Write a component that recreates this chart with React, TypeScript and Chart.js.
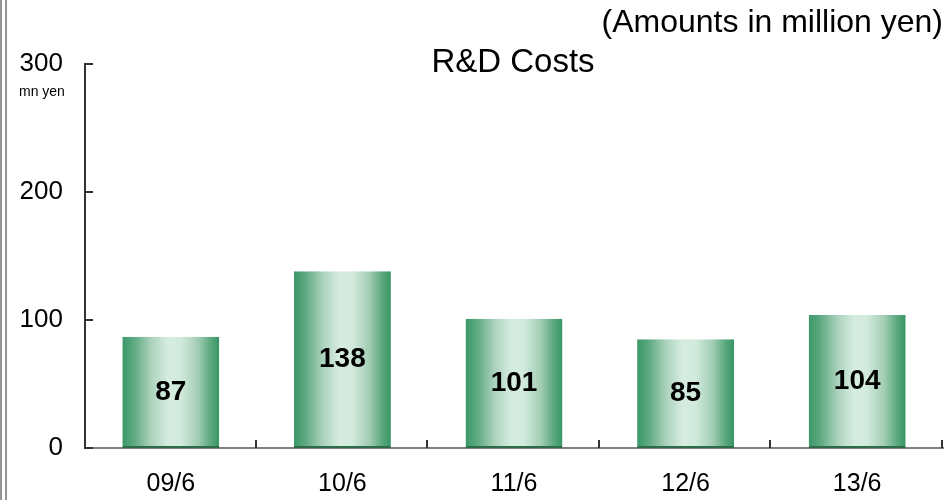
import React, { useEffect, useRef } from "react";
import { Chart, registerables } from "chart.js";

Chart.register(...registerables);

const categories = ["09/6", "10/6", "11/6", "12/6", "13/6"];
const rdCosts = [87, 138, 101, 85, 104];
const yTicks = [0, 100, 200, 300];
const chartTitle = "R&D Costs";
const unitNote = "(Amounts in million yen)";
const axisUnit = "mn yen";

const FONT = "'Liberation Sans', Arial, Helvetica, sans-serif";
const BAR_PCT = 0.565;

const decorPlugin = {
  id: "decor",
  beforeDraw(chart: any) {
    const ctx = chart.ctx;
    ctx.save();
    ctx.fillStyle = "#ffffff";
    ctx.fillRect(0, 0, chart.width, chart.height);
    ctx.fillStyle = "#959595";
    ctx.fillRect(0, 0, 2, chart.height);
    ctx.fillRect(5, 0, 2, chart.height);
    ctx.restore();
  },
  afterDatasetsDraw(chart: any) {
    const ctx = chart.ctx;
    const x = chart.scales.x;
    const y = chart.scales.y;
    const area = chart.chartArea;
    ctx.save();
    ctx.strokeStyle = "#333333";
    ctx.lineWidth = 2;
    yTicks.forEach((v) => {
      const py = Math.round(y.getPixelForValue(v));
      ctx.beginPath();
      ctx.moveTo(area.left, py);
      ctx.lineTo(area.left + 8, py);
      ctx.stroke();
    });
    const n = categories.length;
    for (let i = 1; i <= n; i++) {
      const px = Math.round(x.left + (i * x.width) / n);
      ctx.beginPath();
      ctx.moveTo(px - 1, area.bottom);
      ctx.lineTo(px - 1, area.bottom - 8);
      ctx.stroke();
    }
    const meta = chart.getDatasetMeta(0);
    ctx.fillStyle = "#000000";
    ctx.font = `bold 28px ${FONT}`;
    ctx.textAlign = "center";
    ctx.textBaseline = "middle";
    meta.data.forEach((el: any, i: number) => {
      ctx.fillText(String(rdCosts[i]), el.x, (el.y + el.base) / 2);
    });
    ctx.font = `33px ${FONT}`;
    ctx.textAlign = "center";
    ctx.fillText(chartTitle, (area.left + area.right) / 2 - 1, 63);
    ctx.font = `32px ${FONT}`;
    ctx.textAlign = "right";
    ctx.fillText(unitNote, area.right, 23);
    ctx.font = `14px ${FONT}`;
    ctx.textAlign = "left";
    ctx.fillText(axisUnit, 19, 92);
    ctx.restore();
  },
};

function barGradient(context: any) {
  const chart = context.chart;
  const xs = chart.scales && chart.scales.x;
  if (!xs || !chart.chartArea) return "#3a9867";
  const cx = xs.getPixelForValue(context.dataIndex);
  const w = (xs.width / categories.length) * BAR_PCT;
  const g = chart.ctx.createLinearGradient(cx - w / 2, 0, cx + w / 2, 0);
  g.addColorStop(0, "#3a9867");
  g.addColorStop(0.12, "#5ea981");
  g.addColorStop(0.3, "#acd3bd");
  g.addColorStop(0.47, "#d6ece1");
  g.addColorStop(0.6, "#d2eadd");
  g.addColorStop(0.78, "#a2cdb4");
  g.addColorStop(0.9, "#5fab81");
  g.addColorStop(1, "#379564");
  return g;
}

export default function App() {
  const ref = useRef<HTMLCanvasElement | null>(null);
  useEffect(() => {
    if (!ref.current) return;
    const chart = new Chart(ref.current, {
      type: "bar",
      data: {
        labels: categories,
        datasets: [
          {
            data: rdCosts,
            backgroundColor: barGradient,
            borderColor: "#2e6b4a",
            borderWidth: { top: 0, left: 0, right: 0, bottom: 2 },
            borderSkipped: false,
            categoryPercentage: 1,
            barPercentage: BAR_PCT,
          },
        ],
      },
      options: {
        animation: false,
        responsive: false,
        maintainAspectRatio: false,
        devicePixelRatio: 1,
        layout: { padding: { left: 0, top: 64, right: 4, bottom: 0 } },
        plugins: {
          legend: { display: false },
          tooltip: { enabled: false },
          title: { display: false },
        },
        scales: {
          x: {
            grid: { display: false, drawTicks: false },
            border: { display: true, color: "#808080", width: 2 },
            ticks: {
              color: "#000000",
              font: { family: FONT, size: 25 },
              padding: 21,
              maxRotation: 0,
            },
            afterFit(scale: any) {
              scale.height = 52;
            },
          },
          y: {
            min: 0,
            max: 300,
            grid: { display: false, drawTicks: false },
            border: { display: true, color: "#333333", width: 2 },
            ticks: {
              stepSize: 100,
              color: "#000000",
              font: { family: FONT, size: 26 },
              padding: 22,
            },
            afterFit(scale: any) {
              scale.width = 85;
            },
          },
        },
      },
      plugins: [decorPlugin],
    } as any);
    return () => chart.destroy();
  }, []);
  return (
    <div style={{ position: "absolute", left: 0, top: 0, width: 947, height: 500 }}>
      <canvas ref={ref} width={947} height={500} style={{ display: "block", width: 947, height: 500 }} />
    </div>
  );
}
